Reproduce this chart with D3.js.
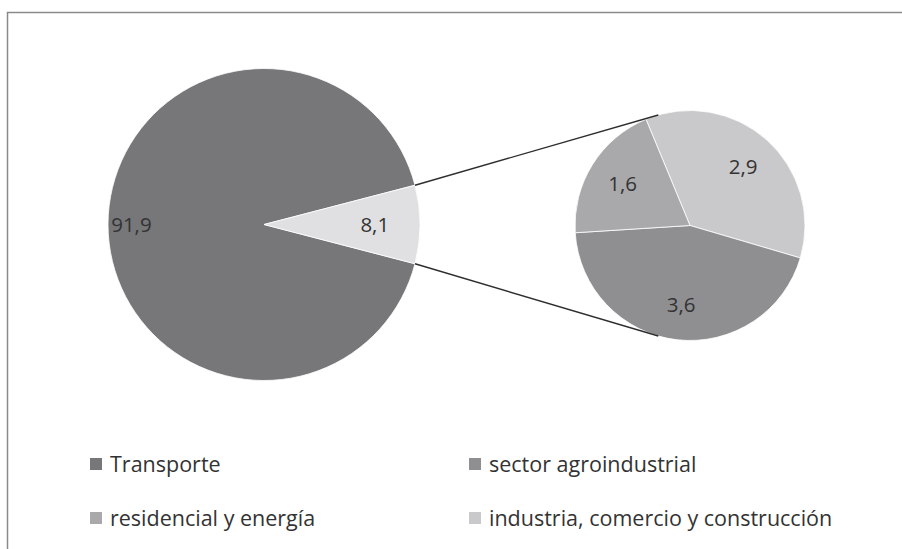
<!DOCTYPE html>
<html>
<head>
<meta charset="utf-8">
<script src="https://cdn.jsdelivr.net/npm/d3@7"></script>
<style>
  html, body { margin: 0; padding: 0; background: #fff; }
  svg { display: block; }
  text { font-family: "Open Sans", sans-serif; fill: #333; }
</style>
</head>
<body>
<svg id="chart" width="902" height="549"></svg>
<script>
// main pie: Transporte vs rest
const mainLabels = ["Transporte", "otros"];
const mainValues = [91.9, 8.1];
const mainColors = ["#77777a", "#e0e0e2"];

// secondary pie: breakdown of the 8,1
const subLabels = ["industria, comercio y construcción", "sector agroindustrial", "residencial y energía"];
const subValues = [2.9, 3.6, 1.6];
const subColors = ["#c9c9cb", "#8f8f92", "#a9a9ab"];

const legendLabels = ["Transporte", "sector agroindustrial", "residencial y energía", "industria, comercio y construcción"];
const legendColors = ["#77777a", "#8f8f92", "#a9a9ab", "#c9c9cb"];

const fmt = (v) => d3.format(".1f")(v).replace(".", ",");
const deg = Math.PI / 180;

const svg = d3.select("#chart");

// frame (cropped figure border)
svg.append("path")
  .attr("d", "M7.5,560 V12.5 H910")
  .attr("fill", "none")
  .attr("stroke", "#8a8a8a")
  .attr("stroke-width", 1.5);

const main = { cx: 264, cy: 224.5, r: 156 };
const sub = { cx: 690, cy: 225.5, r: 115 };

// main pie, small slice centred on the right
const otherSpan = (mainValues[1] / d3.sum(mainValues)) * 360;
const mainPie = d3.pie().sort(null)
  .startAngle((90 + otherSpan / 2) * deg)
  .endAngle((450 + otherSpan / 2) * deg);
const mainArcs = mainPie(mainValues);
const mainArc = d3.arc().innerRadius(0).outerRadius(main.r);

const gMain = svg.append("g").attr("transform", `translate(${main.cx},${main.cy})`);
gMain.selectAll("path")
  .data(mainArcs)
  .join("path")
  .attr("d", mainArc)
  .attr("fill", (d, i) => mainColors[i])
  .attr("stroke", "#fff")
  .attr("stroke-width", 0.8);

const mainLabelR = [0.85, 0.71];
gMain.selectAll("text")
  .data(mainArcs)
  .join("text")
  .attr("transform", (d, i) => {
    const a = (d.startAngle + d.endAngle) / 2;
    const rr = main.r * mainLabelR[i];
    return `translate(${Math.sin(a) * rr},${-Math.cos(a) * rr})`;
  })
  .attr("text-anchor", "middle")
  .attr("dy", "0.36em")
  .attr("font-size", 20.5)
  .text((d) => fmt(d.data));

// secondary pie
const subPie = d3.pie().sort(null)
  .startAngle(-22.5 * deg)
  .endAngle(337.5 * deg);
const subArcs = subPie(subValues);
const subArc = d3.arc().innerRadius(0).outerRadius(sub.r);

const gSub = svg.append("g").attr("transform", `translate(${sub.cx},${sub.cy})`);
gSub.selectAll("path")
  .data(subArcs)
  .join("path")
  .attr("d", subArc)
  .attr("fill", (d, i) => subColors[i])
  .attr("stroke", "#fff")
  .attr("stroke-width", 0.8);

gSub.selectAll("text")
  .data(subArcs)
  .join("text")
  .attr("transform", (d) => {
    const a = (d.startAngle + d.endAngle) / 2;
    const rr = sub.r * 0.69;
    return `translate(${Math.sin(a) * rr},${-Math.cos(a) * rr})`;
  })
  .attr("text-anchor", "middle")
  .attr("dy", "0.36em")
  .attr("font-size", 20.5)
  .text((d) => fmt(d.data));

// connector lines
const o = mainArcs[1];
const pt = (c, a, r) => [c.cx + Math.sin(a) * r, c.cy - Math.cos(a) * r];
const lines = [
  [pt(main, o.startAngle, main.r), pt(sub, -16 * deg, sub.r)],
  [pt(main, o.endAngle, main.r), pt(sub, 196 * deg, sub.r)],
];
svg.selectAll("line.conn")
  .data(lines)
  .join("line")
  .attr("class", "conn")
  .attr("x1", (d) => d[0][0]).attr("y1", (d) => d[0][1])
  .attr("x2", (d) => d[1][0]).attr("y2", (d) => d[1][1])
  .attr("stroke", "#2e2e2e")
  .attr("stroke-width", 1.4);

// legend, two columns
const colX = [90, 469];
const rowY = [464, 518];
const leg = svg.append("g");
const items = leg.selectAll("g")
  .data(legendLabels)
  .join("g")
  .attr("transform", (d, i) => `translate(${colX[i % 2]},${rowY[Math.floor(i / 2)]})`);
items.append("rect")
  .attr("x", 0).attr("y", -6)
  .attr("width", 12).attr("height", 12)
  .attr("fill", (d, i) => legendColors[i]);
items.append("text")
  .attr("x", 20)
  .attr("dy", "0.36em")
  .attr("font-size", 21.5)
  .text((d) => d);
</script>
</body>
</html>
